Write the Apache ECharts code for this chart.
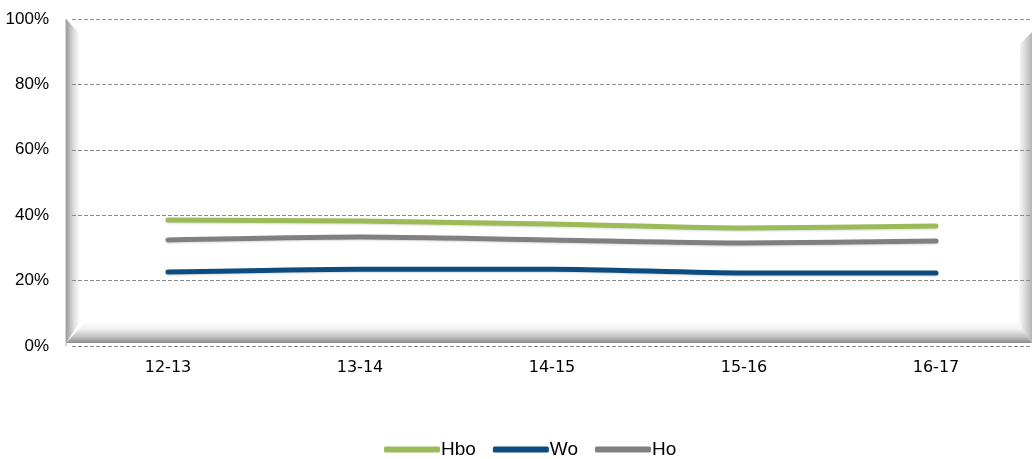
<!DOCTYPE html>
<html><head><meta charset="utf-8">
<script src="https://cdn.jsdelivr.net/npm/echarts@6/dist/echarts.min.js"></script>
<style>html,body{margin:0;padding:0;background:#fff}#c{width:1032px;height:459px}</style>
</head><body><div id="c"></div>
<script>
var categories = ['12-13','13-14','14-15','15-16','16-17'];
var hbo = [38.5, 38.2, 37.3, 36.1, 36.7];
var wo  = [22.6, 23.5, 23.5, 22.3, 22.3];
var ho  = [32.4, 33.3, 32.4, 31.5, 32.1];
var yTicks = [0, 20, 40, 60, 80, 100];

var chart = echarts.init(document.getElementById('c'));
function grad(x0,y0,x1,y1,stops){return new echarts.graphic.LinearGradient(x0,y0,x1,y1,stops);}
chart.setOption({
  animation:false,
  grid:{left:72,right:-2,top:19,bottom:113,containLabel:false},
  graphic:[
    {type:'polygon',z:-10,shape:{points:[[66,19],[80,34],[80,322],[66,343]]},
      style:{fill:grad(0,0,1,0,[{offset:0,color:'#989898'},{offset:0.5,color:'#d8d8d8'},{offset:1,color:'#ffffff'}])}},
    {type:'polygon',z:-10,shape:{points:[[66,343],[86,321],[1018,321],[1032,343]]},
      style:{fill:grad(0,0,0,1,[{offset:0,color:'#ffffff'},{offset:0.35,color:'#f2f2f2'},{offset:0.75,color:'#bdbdbd'},{offset:1,color:'#8c8c8c'}])}},
    {type:'polygon',z:-10,shape:{points:[[1020,44],[1032,32],[1032,343],[1018,321]]},
      style:{fill:grad(0,0,1,0,[{offset:0,color:'#ffffff'},{offset:1,color:'#b4b4b4'}])}},
    {type:'line',z:-9,shape:{x1:66,y1:19,x2:66,y2:346},style:{stroke:'#a8a8a8',lineWidth:1}}
  ],
  xAxis:{type:'category',data:categories,boundaryGap:true,
    axisLine:{show:false},axisTick:{show:false},
    axisLabel:{margin:14,color:'#000',fontFamily:'DejaVu Sans',fontSize:16}},
  yAxis:{type:'value',min:0,max:100,interval:20,
    axisLine:{show:false},axisTick:{show:false},
    axisLabel:{margin:23,color:'#000',fontFamily:'Liberation Sans',fontSize:17,
      formatter:function(v){return yTicks.indexOf(v)>=0? v+'%':'';}},
    splitLine:{show:true,lineStyle:{color:'#8c8c8c',type:[4,2],width:1}}},
  legend:{top:440,left:384,itemWidth:56,itemHeight:6,itemGap:17,icon:'roundRect',padding:0,
    textStyle:{fontFamily:'Liberation Sans',fontSize:19,color:'#000',padding:[0,0,0,-4]},
    data:['Hbo','Wo','Ho']},
  series:[
    {name:'Hbo',type:'line',data:hbo,smooth:0.25,showSymbol:false,symbol:'none',color:'#9bbb59',
      lineStyle:{width:5,cap:'round',color:'#9bbb59',shadowColor:'rgba(0,0,0,0.15)',shadowBlur:2,shadowOffsetY:1}},
    {name:'Wo',type:'line',data:wo,smooth:0.25,showSymbol:false,symbol:'none',color:'#0d4c7f',
      lineStyle:{width:5,cap:'round',color:'#0d4c7f',shadowColor:'rgba(0,0,0,0.15)',shadowBlur:2,shadowOffsetY:1}},
    {name:'Ho',type:'line',data:ho,smooth:0.25,showSymbol:false,symbol:'none',color:'#808080',
      lineStyle:{width:5,cap:'round',color:'#808080',shadowColor:'rgba(0,0,0,0.15)',shadowBlur:2,shadowOffsetY:1}}
  ]
});
</script></body></html>
